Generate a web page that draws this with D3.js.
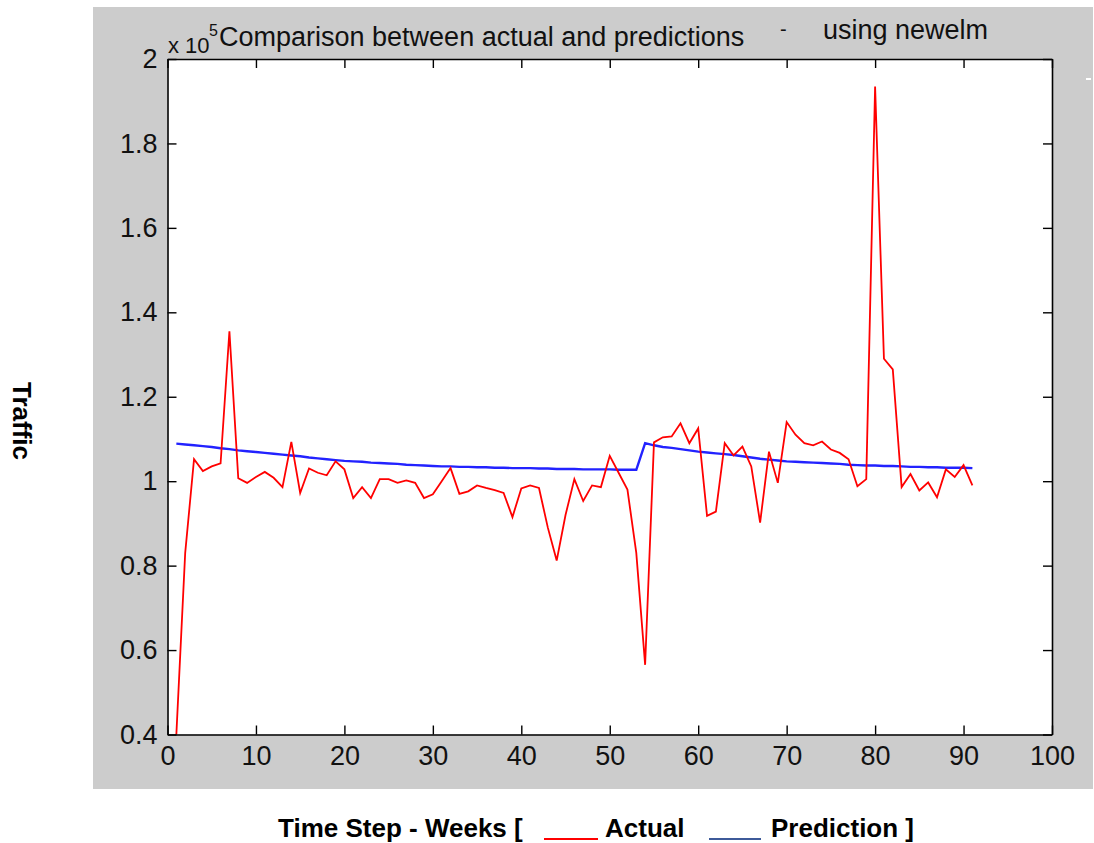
<!DOCTYPE html>
<html>
<head>
<meta charset="utf-8">
<script src="https://cdnjs.cloudflare.com/ajax/libs/d3/7.8.5/d3.min.js"></script>
<style>
  body { margin: 0; background: #fff; }
  text { font-family: "Liberation Sans", Arial, sans-serif; }
</style>
</head>
<body>
<div id="chart"></div>
<script>
// datos (semanas 1..91)
var weeks = d3.range(1, 92)

var actual = [0.40, 0.83, 1.052, 1.024, 1.035, 1.042, 1.355, 1.007, 0.996, 1.010,
  1.022, 1.008, 0.986, 1.093, 0.972, 1.030, 1.020, 1.014, 1.047, 1.028,
  0.960, 0.986, 0.960, 1.005, 1.005, 0.996, 1.002, 0.996, 0.960, 0.969,
  1.000, 1.031, 0.970, 0.976, 0.990, 0.984, 0.979, 0.972, 0.915, 0.983,
  0.990, 0.984, 0.890, 0.812, 0.920, 1.005, 0.953, 0.990, 0.986, 1.060,
  1.020, 0.980, 0.830, 0.565, 1.092, 1.104, 1.106, 1.137, 1.090, 1.125,
  0.918, 0.928, 1.090, 1.061, 1.082, 1.035, 0.902, 1.070, 0.996, 1.140,
  1.110, 1.090, 1.085, 1.094, 1.075, 1.067, 1.052, 0.988, 1.005, 1.935,
  1.290, 1.265, 0.986, 1.017, 0.978, 0.997, 0.962, 1.028, 1.010, 1.038,
  0.990]

var prediction = [1.089, 1.087, 1.085, 1.083, 1.081, 1.078, 1.076, 1.073, 1.071, 1.069,
  1.067, 1.065, 1.063, 1.061, 1.059, 1.056, 1.054, 1.052, 1.050, 1.048,
  1.047, 1.046, 1.044, 1.043, 1.042, 1.041, 1.039, 1.038, 1.037, 1.036,
  1.035, 1.035, 1.034, 1.034, 1.033, 1.033, 1.032, 1.032, 1.031, 1.031,
  1.031, 1.030, 1.030, 1.029, 1.029, 1.029, 1.028, 1.028, 1.028, 1.028,
  1.027, 1.027, 1.027, 1.090, 1.085, 1.081, 1.079, 1.076, 1.073, 1.070,
  1.068, 1.066, 1.064, 1.062, 1.059, 1.056, 1.053, 1.051, 1.049, 1.047,
  1.046, 1.045, 1.044, 1.043, 1.042, 1.041, 1.039, 1.038, 1.037, 1.037,
  1.036, 1.036, 1.035, 1.034, 1.034, 1.033, 1.033, 1.032, 1.032, 1.032,
  1.031]

var xTicks = [0, 10, 20, 30, 40, 50, 60, 70, 80, 90, 100]
var yTicks = [0.4, 0.6, 0.8, 1, 1.2, 1.4, 1.6, 1.8, 2]
var yTickLabels = ['0.4', '0.6', '0.8', '1', '1.2', '1.4', '1.6', '1.8', '2']

// lienzo
var width = 1094
var height = 843
var plotLeft = 167.5, plotRight = 1052, plotTop = 59, plotBottom = 734.5

var svg = d3.select('#chart')
    .append('svg')
    .attr('width', width)
    .attr('height', height)

// fondo gris de la figura
svg.append('rect')
    .attr('x', 93).attr('y', 7)
    .attr('width', 1000).attr('height', 782)
    .attr('fill', '#cccccc')

svg.append('rect')
    .attr('x', 1086).attr('y', 78)
    .attr('width', 5).attr('height', 2)
    .attr('fill', '#ffffff')

svg.append('rect')
    .attr('x', plotLeft).attr('y', plotTop)
    .attr('width', plotRight - plotLeft).attr('height', plotBottom - plotTop)
    .attr('fill', '#ffffff')

// escalas
var scaleX = d3.scaleLinear().domain([0, 100]).range([plotLeft, plotRight])
var scaleY = d3.scaleLinear().domain([0.4, 2]).range([plotBottom, plotTop])

// lineas
var line = function(values) {
    return d3.line()
        .x((d, i) => scaleX(weeks[i]))
        .y((d) => scaleY(d))(values)
}

svg.append('path')
    .attr('d', line(prediction))
    .attr('fill', 'none')
    .attr('stroke', '#2222ff')
    .attr('stroke-width', 2.4)

svg.append('path')
    .attr('d', line(actual))
    .attr('fill', 'none')
    .attr('stroke', '#ff0000')
    .attr('stroke-width', 1.8)

// ejes con ticks hacia dentro (estilo matlab)
var yLabel = d3.scaleOrdinal().domain(yTicks).range(yTickLabels)

var xaxis = d3.axisBottom(scaleX).tickValues(xTicks).tickSizeInner(-9).tickSizeOuter(0).tickPadding(11)
var xaxisTop = d3.axisTop(scaleX).tickValues(xTicks).tickSizeInner(-9).tickSizeOuter(0).tickFormat('')
var yaxis = d3.axisLeft(scaleY).tickValues(yTicks).tickSizeInner(-9).tickSizeOuter(0).tickPadding(10)
    .tickFormat((d) => yLabel(d))
var yaxisRight = d3.axisRight(scaleY).tickValues(yTicks).tickSizeInner(-9).tickSizeOuter(0).tickFormat('')

svg.append('g').attr('transform', 'translate(0,' + plotBottom + ')').call(xaxis)
svg.append('g').attr('transform', 'translate(0,' + plotTop + ')').call(xaxisTop)
svg.append('g').attr('transform', 'translate(' + plotLeft + ',0)').call(yaxis)
svg.append('g').attr('transform', 'translate(' + plotRight + ',0)').call(yaxisRight)

svg.selectAll('.domain').attr('stroke', '#000').attr('stroke-width', 1.6)
svg.selectAll('.tick line').attr('stroke', '#000').attr('stroke-width', 1.4)
svg.selectAll('.tick text')
    .attr('font-family', '"Liberation Sans", Arial, sans-serif')
    .attr('font-size', 27)
    .attr('fill', '#111')

// titulo y exponente
svg.append('text').attr('x', 168).attr('y', 53)
    .attr('font-size', 22).attr('fill', '#111').text('x 10')
svg.append('text').attr('x', 209).attr('y', 36)
    .attr('font-size', 16).attr('fill', '#111').text('5')
svg.append('text').attr('x', 219).attr('y', 46)
    .attr('font-size', 27).attr('fill', '#111')
    .text('Comparison between actual and predictions')
svg.append('text').attr('x', 780).attr('y', 36)
    .attr('font-size', 20).attr('fill', '#111').text('-')
svg.append('text').attr('x', 823).attr('y', 39)
    .attr('font-size', 27).attr('fill', '#111').text('using newelm')

// etiqueta eje y
svg.append('text')
    .attr('transform', 'translate(13,421) rotate(90)')
    .attr('text-anchor', 'middle')
    .attr('font-size', 26).attr('font-weight', 'bold')
    .text('Traffic')

// etiqueta eje x con leyenda
var xl = svg.append('g').attr('font-size', 26).attr('font-weight', 'bold')
xl.append('text').attr('x', 278).attr('y', 837).text('Time Step - Weeks [')
xl.append('line').attr('x1', 544).attr('x2', 598).attr('y1', 839).attr('y2', 839)
    .attr('stroke', '#ff0000').attr('stroke-width', 2)
xl.append('text').attr('x', 605).attr('y', 837).text('Actual')
xl.append('line').attr('x1', 709).attr('x2', 761).attr('y1', 839).attr('y2', 839)
    .attr('stroke', '#3d5a99').attr('stroke-width', 2)
xl.append('text').attr('x', 771).attr('y', 837).text('Prediction ]')
</script>
</body>
</html>
